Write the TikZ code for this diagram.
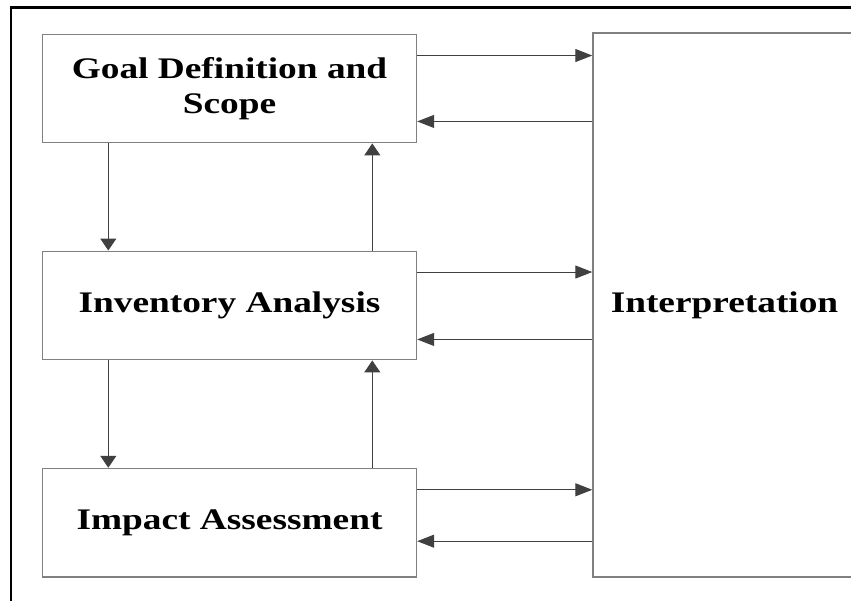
\documentclass[tikz,border=0pt]{standalone}
\usepackage{fontspec}
\setmainfont[FakeStretch=1.25]{Liberation Serif}
\usepackage{tikz}
\usetikzlibrary{arrows.meta,positioning}

\begin{document}
\begin{tikzpicture}[
  box/.style={draw=gray, line width=0.8pt, minimum width=7.48cm, minimum height=2.17cm,
    align=center, font=\fontsize{17}{20}\selectfont\bfseries},
  harr/.style={draw=black!75, line width=0.6pt, -{Triangle[length=0.34cm,width=0.26cm]}},
  varr/.style={draw=black!75, line width=0.6pt, -{Triangle[length=0.24cm,width=0.32cm]}}]
\useasboundingbox (0,0) rectangle (17.02,12.02);
\clip (0,0) rectangle (17.02,12.02);

% outer frame
\draw[line width=1.7pt] (0.22,-1) -- (0.22,11.86) -- (18,11.86);

\node[box]          (goal)   at (4.59,10.25)  {Goal Definition and\\Scope};
\node[box]          (inv)    at (4.59,5.91)   {Inventory Analysis};
\node[box]          (imp)    at (4.59,1.565)  {Impact Assessment};
\node[box, minimum width=5.26cm, minimum height=10.88cm]
                    (interp) at (14.49,5.92)  {Interpretation};

% between the stages
\draw[varr] ([xshift=1.33cm]goal.south west) -- ([xshift=1.33cm]inv.north west);
\draw[varr] ([xshift=6.61cm]inv.north west) -- ([xshift=6.61cm]goal.south west);
\draw[varr] ([xshift=1.33cm]inv.south west) -- ([xshift=1.33cm]imp.north west);
\draw[varr] ([xshift=6.61cm]imp.north west) -- ([xshift=6.61cm]inv.south west);

% to and from interpretation
\draw[harr] ([yshift=-0.44cm]goal.north east) -- ([yshift=-0.44cm]goal.north east -| interp.west);
\draw[harr] ([yshift=0.44cm]goal.south east -| interp.west) -- ([yshift=0.44cm]goal.south east);
\draw[harr] ([yshift=-0.43cm]inv.north east) -- ([yshift=-0.43cm]inv.north east -| interp.west);
\draw[harr] ([yshift=0.42cm]inv.south east -| interp.west) -- ([yshift=0.42cm]inv.south east);
\draw[harr] ([yshift=-0.44cm]imp.north east) -- ([yshift=-0.44cm]imp.north east -| interp.west);
\draw[harr] ([yshift=0.73cm]imp.south east -| interp.west) -- ([yshift=0.73cm]imp.south east);

\end{tikzpicture}
\end{document}
